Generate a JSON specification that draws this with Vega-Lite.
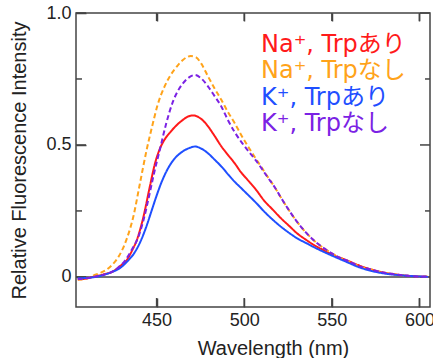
{
  "$schema": "https://vega.github.io/schema/vega-lite/v6.json",
  "width": 354,
  "height": 294,
  "autosize": {"type": "none"},
  "padding": {"left": 76, "top": 13, "right": 3, "bottom": 51},
  "background": "white",
  "config": {
    "view": {"stroke": "#444", "strokeWidth": 1.5},
    "axis": {
      "labelFont": "Liberation Sans", "titleFont": "Liberation Sans",
      "labelFontSize": 18, "titleFontSize": 20,
      "labelColor": "#222", "titleColor": "#222", "titleFontWeight": "normal",
      "grid": false
    },
    "legend": {"padding": 0}
  },
  "datasets": {
    "zero": [{"z": 0}],
    "xticks": [{"t": 450}, {"t": 500}, {"t": 550}, {"t": 600}],
    "ymajor": [{"t": 0}, {"t": 0.5}, {"t": 1.0}],
    "yminor": [{"t": 0.25}, {"t": 0.75}],
    "spectra": [
      {"s":"Na⁺, Trpあり","nm":405,"v":-0.010},{"s":"Na⁺, Trpあり","nm":410,"v":-0.006},{"s":"Na⁺, Trpあり","nm":415,"v":0.002},{"s":"Na⁺, Trpあり","nm":420,"v":0.010},{"s":"Na⁺, Trpあり","nm":425,"v":0.020},{"s":"Na⁺, Trpあり","nm":429,"v":0.040},{"s":"Na⁺, Trpあり","nm":433,"v":0.064},{"s":"Na⁺, Trpあり","nm":436,"v":0.100},{"s":"Na⁺, Trpあり","nm":439,"v":0.145},{"s":"Na⁺, Trpあり","nm":442.5,"v":0.228},{"s":"Na⁺, Trpあり","nm":446,"v":0.338},{"s":"Na⁺, Trpあり","nm":449,"v":0.428},{"s":"Na⁺, Trpあり","nm":452,"v":0.488},{"s":"Na⁺, Trpあり","nm":455,"v":0.525},{"s":"Na⁺, Trpあり","nm":458,"v":0.550},{"s":"Na⁺, Trpあり","nm":461,"v":0.572},{"s":"Na⁺, Trpあり","nm":465,"v":0.595},{"s":"Na⁺, Trpあり","nm":468,"v":0.608},{"s":"Na⁺, Trpあり","nm":471,"v":0.612},{"s":"Na⁺, Trpあり","nm":474,"v":0.605},{"s":"Na⁺, Trpあり","nm":477,"v":0.589},{"s":"Na⁺, Trpあり","nm":479.5,"v":0.569},{"s":"Na⁺, Trpあり","nm":483,"v":0.535},{"s":"Na⁺, Trpあり","nm":487,"v":0.494},{"s":"Na⁺, Trpあり","nm":491,"v":0.460},{"s":"Na⁺, Trpあり","nm":494.6,"v":0.430},{"s":"Na⁺, Trpあり","nm":498,"v":0.398},{"s":"Na⁺, Trpあり","nm":502,"v":0.367},{"s":"Na⁺, Trpあり","nm":507,"v":0.328},{"s":"Na⁺, Trpあり","nm":511,"v":0.292},{"s":"Na⁺, Trpあり","nm":516.4,"v":0.254},{"s":"Na⁺, Trpあり","nm":521,"v":0.222},{"s":"Na⁺, Trpあり","nm":526,"v":0.191},{"s":"Na⁺, Trpあり","nm":530,"v":0.166},{"s":"Na⁺, Trpあり","nm":535.4,"v":0.140},{"s":"Na⁺, Trpあり","nm":540,"v":0.120},{"s":"Na⁺, Trpあり","nm":545,"v":0.102},{"s":"Na⁺, Trpあり","nm":550,"v":0.085},{"s":"Na⁺, Trpあり","nm":558,"v":0.064},{"s":"Na⁺, Trpあり","nm":565,"v":0.045},{"s":"Na⁺, Trpあり","nm":573,"v":0.027},{"s":"Na⁺, Trpあり","nm":580,"v":0.016},{"s":"Na⁺, Trpあり","nm":588,"v":0.008},{"s":"Na⁺, Trpあり","nm":596,"v":0.003},{"s":"Na⁺, Trpあり","nm":605,"v":0.000},

      {"s":"Na⁺, Trpなし","nm":405,"v":-0.010},{"s":"Na⁺, Trpなし","nm":410,"v":-0.006},{"s":"Na⁺, Trpなし","nm":415,"v":0.008},{"s":"Na⁺, Trpなし","nm":418.5,"v":0.017},{"s":"Na⁺, Trpなし","nm":421.5,"v":0.028},{"s":"Na⁺, Trpなし","nm":424.5,"v":0.045},{"s":"Na⁺, Trpなし","nm":427.2,"v":0.066},{"s":"Na⁺, Trpなし","nm":430,"v":0.097},{"s":"Na⁺, Trpなし","nm":433,"v":0.145},{"s":"Na⁺, Trpなし","nm":436.7,"v":0.228},{"s":"Na⁺, Trpなし","nm":440.5,"v":0.355},{"s":"Na⁺, Trpなし","nm":444.3,"v":0.481},{"s":"Na⁺, Trpなし","nm":447.5,"v":0.572},{"s":"Na⁺, Trpなし","nm":450.5,"v":0.650},{"s":"Na⁺, Trpなし","nm":454.5,"v":0.721},{"s":"Na⁺, Trpなし","nm":458,"v":0.765},{"s":"Na⁺, Trpなし","nm":461.5,"v":0.797},{"s":"Na⁺, Trpなし","nm":465,"v":0.822},{"s":"Na⁺, Trpなし","nm":469.5,"v":0.837},{"s":"Na⁺, Trpなし","nm":472.5,"v":0.832},{"s":"Na⁺, Trpなし","nm":475.5,"v":0.808},{"s":"Na⁺, Trpなし","nm":479.4,"v":0.759},{"s":"Na⁺, Trpなし","nm":483,"v":0.715},{"s":"Na⁺, Trpなし","nm":487,"v":0.670},{"s":"Na⁺, Trpなし","nm":490.5,"v":0.627},{"s":"Na⁺, Trpなし","nm":494.6,"v":0.582},{"s":"Na⁺, Trpなし","nm":498.5,"v":0.535},{"s":"Na⁺, Trpなし","nm":502.2,"v":0.494},{"s":"Na⁺, Trpなし","nm":506,"v":0.454},{"s":"Na⁺, Trpなし","nm":509.8,"v":0.416},{"s":"Na⁺, Trpなし","nm":513.5,"v":0.378},{"s":"Na⁺, Trpなし","nm":517.4,"v":0.340},{"s":"Na⁺, Trpなし","nm":521,"v":0.300},{"s":"Na⁺, Trpなし","nm":526,"v":0.248},{"s":"Na⁺, Trpなし","nm":530,"v":0.210},{"s":"Na⁺, Trpなし","nm":535.4,"v":0.167},{"s":"Na⁺, Trpなし","nm":541,"v":0.131},{"s":"Na⁺, Trpなし","nm":547,"v":0.102},{"s":"Na⁺, Trpなし","nm":553,"v":0.078},{"s":"Na⁺, Trpなし","nm":560,"v":0.058},{"s":"Na⁺, Trpなし","nm":566,"v":0.040},{"s":"Na⁺, Trpなし","nm":573,"v":0.027},{"s":"Na⁺, Trpなし","nm":580,"v":0.016},{"s":"Na⁺, Trpなし","nm":588,"v":0.008},{"s":"Na⁺, Trpなし","nm":596,"v":0.003},{"s":"Na⁺, Trpなし","nm":605,"v":0.001},

      {"s":"K⁺, Trpあり","nm":405,"v":-0.005},{"s":"K⁺, Trpあり","nm":410,"v":-0.004},{"s":"K⁺, Trpあり","nm":415,"v":0.000},{"s":"K⁺, Trpあり","nm":420,"v":0.008},{"s":"K⁺, Trpあり","nm":425,"v":0.020},{"s":"K⁺, Trpあり","nm":429,"v":0.033},{"s":"K⁺, Trpあり","nm":433,"v":0.057},{"s":"K⁺, Trpあり","nm":437,"v":0.088},{"s":"K⁺, Trpあり","nm":440.5,"v":0.130},{"s":"K⁺, Trpあり","nm":444,"v":0.188},{"s":"K⁺, Trpあり","nm":447,"v":0.248},{"s":"K⁺, Trpあり","nm":450,"v":0.308},{"s":"K⁺, Trpあり","nm":453,"v":0.362},{"s":"K⁺, Trpあり","nm":456,"v":0.405},{"s":"K⁺, Trpあり","nm":459.5,"v":0.442},{"s":"K⁺, Trpあり","nm":464.8,"v":0.475},{"s":"K⁺, Trpあり","nm":468.5,"v":0.488},{"s":"K⁺, Trpあり","nm":472,"v":0.494},{"s":"K⁺, Trpあり","nm":475.5,"v":0.486},{"s":"K⁺, Trpあり","nm":479.4,"v":0.468},{"s":"K⁺, Trpあり","nm":483,"v":0.445},{"s":"K⁺, Trpあり","nm":487,"v":0.418},{"s":"K⁺, Trpあり","nm":491,"v":0.387},{"s":"K⁺, Trpあり","nm":494.6,"v":0.360},{"s":"K⁺, Trpあり","nm":497.4,"v":0.342},{"s":"K⁺, Trpあり","nm":502,"v":0.312},{"s":"K⁺, Trpあり","nm":507,"v":0.279},{"s":"K⁺, Trpあり","nm":511.5,"v":0.247},{"s":"K⁺, Trpあり","nm":516.4,"v":0.216},{"s":"K⁺, Trpあり","nm":521,"v":0.190},{"s":"K⁺, Trpあり","nm":526,"v":0.165},{"s":"K⁺, Trpあり","nm":530.5,"v":0.145},{"s":"K⁺, Trpあり","nm":535.4,"v":0.128},{"s":"K⁺, Trpあり","nm":540,"v":0.112},{"s":"K⁺, Trpあり","nm":545,"v":0.096},{"s":"K⁺, Trpあり","nm":551,"v":0.078},{"s":"K⁺, Trpあり","nm":558,"v":0.058},{"s":"K⁺, Trpあり","nm":565,"v":0.038},{"s":"K⁺, Trpあり","nm":573,"v":0.022},{"s":"K⁺, Trpあり","nm":580,"v":0.013},{"s":"K⁺, Trpあり","nm":588,"v":0.007},{"s":"K⁺, Trpあり","nm":596,"v":0.003},{"s":"K⁺, Trpあり","nm":605,"v":0.000},

      {"s":"K⁺, Trpなし","nm":405,"v":-0.008},{"s":"K⁺, Trpなし","nm":410,"v":-0.005},{"s":"K⁺, Trpなし","nm":416,"v":0.003},{"s":"K⁺, Trpなし","nm":423,"v":0.015},{"s":"K⁺, Trpなし","nm":428,"v":0.035},{"s":"K⁺, Trpなし","nm":432,"v":0.062},{"s":"K⁺, Trpなし","nm":436,"v":0.105},{"s":"K⁺, Trpなし","nm":439.5,"v":0.150},{"s":"K⁺, Trpなし","nm":442.5,"v":0.215},{"s":"K⁺, Trpなし","nm":445.5,"v":0.300},{"s":"K⁺, Trpなし","nm":448.5,"v":0.392},{"s":"K⁺, Trpなし","nm":451.8,"v":0.481},{"s":"K⁺, Trpなし","nm":455.5,"v":0.582},{"s":"K⁺, Trpなし","nm":459.3,"v":0.664},{"s":"K⁺, Trpなし","nm":462,"v":0.703},{"s":"K⁺, Trpなし","nm":465,"v":0.733},{"s":"K⁺, Trpなし","nm":468.5,"v":0.756},{"s":"K⁺, Trpなし","nm":471.8,"v":0.765},{"s":"K⁺, Trpなし","nm":475.5,"v":0.752},{"s":"K⁺, Trpなし","nm":479.4,"v":0.721},{"s":"K⁺, Trpなし","nm":483,"v":0.686},{"s":"K⁺, Trpなし","nm":487,"v":0.645},{"s":"K⁺, Trpなし","nm":490.5,"v":0.597},{"s":"K⁺, Trpなし","nm":494.6,"v":0.548},{"s":"K⁺, Trpなし","nm":498.5,"v":0.510},{"s":"K⁺, Trpなし","nm":502.2,"v":0.478},{"s":"K⁺, Trpなし","nm":506,"v":0.447},{"s":"K⁺, Trpなし","nm":509.8,"v":0.412},{"s":"K⁺, Trpなし","nm":513.5,"v":0.376},{"s":"K⁺, Trpなし","nm":517.4,"v":0.340},{"s":"K⁺, Trpなし","nm":521,"v":0.300},{"s":"K⁺, Trpなし","nm":526,"v":0.248},{"s":"K⁺, Trpなし","nm":530,"v":0.210},{"s":"K⁺, Trpなし","nm":535.4,"v":0.167},{"s":"K⁺, Trpなし","nm":541,"v":0.131},{"s":"K⁺, Trpなし","nm":547,"v":0.102},{"s":"K⁺, Trpなし","nm":553,"v":0.078},{"s":"K⁺, Trpなし","nm":560,"v":0.058},{"s":"K⁺, Trpなし","nm":566,"v":0.040},{"s":"K⁺, Trpなし","nm":573,"v":0.027},{"s":"K⁺, Trpなし","nm":580,"v":0.016},{"s":"K⁺, Trpなし","nm":588,"v":0.008},{"s":"K⁺, Trpなし","nm":596,"v":0.003},{"s":"K⁺, Trpなし","nm":605,"v":0.001}
    ]
  },
  "layer": [
    {
      "data": {"name": "zero"},
      "mark": {"type": "rule", "color": "#444", "strokeWidth": 1.5},
      "encoding": {
        "x": {"datum": 404, "type": "quantitative", "scale": {"domain": [404, 606], "nice": false, "zero": false},
              "axis": {"orient": "top", "values": [450, 500, 550, 600], "labels": false, "offset": -8, "tickSize": 8, "tickColor": "#444", "tickWidth": 1.5, "domainOpacity": 0, "title": null}},
        "x2": {"datum": 606},
        "y": {"field": "z", "type": "quantitative", "scale": {"domain": [-0.114, 1.0], "nice": false, "zero": false},
              "axis": {"orient": "left", "values": [0, 0.5, 1.0], "offset": -10, "tickSize": 10, "tickColor": "#444", "tickWidth": 1.5, "domain": false, "labelPadding": 5,
                       "labelExpr": "datum.value == 0 ? '0' : format(datum.value, '.1f')",
                       "title": "Relative Fluorescence Intensity", "titlePadding": 16}}
      }
    },
    {
      "data": {"name": "xticks"},
      "mark": {"type": "rule", "color": "#444", "strokeWidth": 1.5},
      "encoding": {
        "x": {"field": "t", "type": "quantitative", "scale": {"domain": [404, 606], "nice": false, "zero": false}, "axis": null},
        "y": {"datum": -0.114, "type": "quantitative", "scale": {"domain": [-0.114, 1.0], "nice": false, "zero": false}, "axis": null},
        "y2": {"datum": -0.0799}
      }
    },
    {
      "data": {"name": "xticks"},
      "mark": {"type": "rule", "color": "#444", "strokeWidth": 1.5},
      "encoding": {
        "x": {"field": "t", "type": "quantitative", "scale": {"domain": [404, 606], "nice": false, "zero": false}, "axis": null},
        "y": {"datum": 1.0, "type": "quantitative", "scale": {"domain": [-0.114, 1.0], "nice": false, "zero": false}, "axis": null},
        "y2": {"datum": 0.9697}
      }
    },
    {
      "data": {"name": "ymajor"},
      "mark": {"type": "rule", "color": "#444", "strokeWidth": 1.5},
      "encoding": {
        "y": {"field": "t", "type": "quantitative", "scale": {"domain": [-0.114, 1.0], "nice": false, "zero": false}, "axis": null},
        "x": {"datum": 404, "type": "quantitative", "scale": {"domain": [404, 606], "nice": false, "zero": false}, "axis": null},
        "x2": {"datum": 409.71}
      }
    },
    {
      "data": {"name": "yminor"},
      "mark": {"type": "rule", "color": "#444", "strokeWidth": 1.5},
      "encoding": {
        "y": {"field": "t", "type": "quantitative", "scale": {"domain": [-0.114, 1.0], "nice": false, "zero": false}, "axis": null},
        "x": {"datum": 404, "type": "quantitative", "scale": {"domain": [404, 606], "nice": false, "zero": false}, "axis": null},
        "x2": {"datum": 407.42}
      }
    },
    {
      "data": {"name": "ymajor"},
      "mark": {"type": "rule", "color": "#444", "strokeWidth": 1.5},
      "encoding": {
        "y": {"field": "t", "type": "quantitative", "scale": {"domain": [-0.114, 1.0], "nice": false, "zero": false}, "axis": null},
        "x": {"datum": 606, "type": "quantitative", "scale": {"domain": [404, 606], "nice": false, "zero": false}, "axis": null},
        "x2": {"datum": 600.29}
      }
    },
    {
      "data": {"name": "yminor"},
      "mark": {"type": "rule", "color": "#444", "strokeWidth": 1.5},
      "encoding": {
        "y": {"field": "t", "type": "quantitative", "scale": {"domain": [-0.114, 1.0], "nice": false, "zero": false}, "axis": null},
        "x": {"datum": 606, "type": "quantitative", "scale": {"domain": [404, 606], "nice": false, "zero": false}, "axis": null},
        "x2": {"datum": 603.15}
      }
    },
    {
      "data": {"name": "spectra"},
      "mark": {"type": "line", "strokeWidth": 2, "interpolate": "monotone"},
      "encoding": {
        "x": {"field": "nm", "type": "quantitative", "scale": {"domain": [404, 606], "nice": false, "zero": false},
              "axis": {"orient": "bottom", "values": [450, 500, 550, 600], "offset": -9, "tickSize": 9, "tickColor": "#444", "tickWidth": 1.5, "domain": false, "labelPadding": 4,
                       "title": "Wavelength (nm)", "titlePadding": 9, "titleX": 197}},
        "y": {"field": "v", "type": "quantitative", "scale": {"domain": [-0.114, 1.0], "nice": false, "zero": false}, "axis": null},
        "color": {"field": "s", "type": "nominal",
                  "scale": {"domain": ["Na⁺, Trpあり", "Na⁺, Trpなし", "K⁺, Trpあり", "K⁺, Trpなし"],
                            "range": ["#ff1a1a", "#ffa31a", "#1f4fff", "#7b22e4"]},
                  "legend": {"orient": "none", "legendX": 161, "legendY": 20, "title": null,
                             "symbolSize": 0, "symbolOpacity": 0, "symbolStrokeWidth": 0, "labelOffset": 0,
                             "labelFont": "DejaVu Sans, Noto Sans CJK JP", "labelFontSize": 24, "labelFontWeight": "normal",
                             "labelLimit": 400, "rowPadding": 2.4,
                             "encode": {"labels": {"update": {"fill": {"scale": "color", "field": "value"}}}}}},
        "strokeDash": {"field": "s", "type": "nominal",
                       "scale": {"domain": ["Na⁺, Trpあり", "Na⁺, Trpなし", "K⁺, Trpあり", "K⁺, Trpなし"],
                                 "range": [[1, 0], [5, 3], [1, 0], [5, 3]]},
                       "legend": null}
      }
    }
  ],
  "resolve": {"axis": {"x": "independent", "y": "independent"}}
}
